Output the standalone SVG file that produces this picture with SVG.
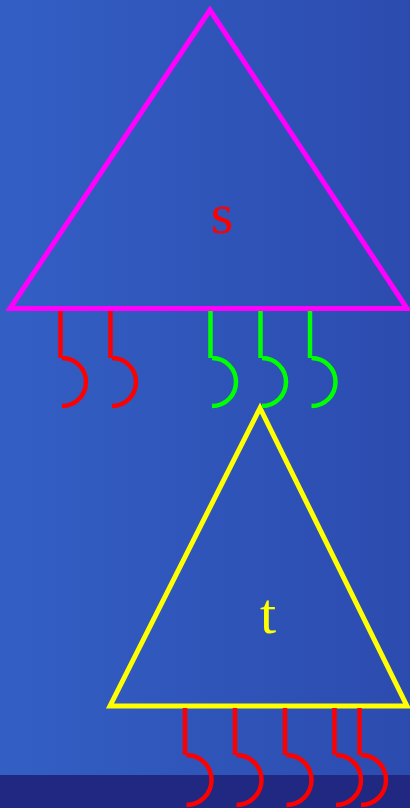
<svg xmlns="http://www.w3.org/2000/svg" width="410" height="808" viewBox="0 0 410 808">
<defs>
<linearGradient id="bg" x1="0" y1="0" x2="1" y2="0">
<stop offset="0" stop-color="#335FC4"/>
<stop offset="1" stop-color="#2C4BAF"/>
</linearGradient>
</defs>
<style>
.tri{fill:none;stroke-width:5;stroke-linejoin:miter}
.hook{fill:none;stroke-width:4.5}
.lbl{font-family:"Liberation Serif",serif;font-size:58px;text-anchor:middle}
</style>
<rect x="0" y="0" width="410" height="808" fill="url(#bg)"/>
<rect x="0" y="775" width="410" height="33" fill="#202882"/>
<g id="node-s">
<polygon class="tri" stroke="#FF00FF" points="210,10 10,308.5 407,308.5"/>
<text class="lbl" x="222" y="233" fill="#FF0000">s</text>
</g>
<g id="node-t">
<polygon class="tri" stroke="#FFFF00" points="260,408 110,706 407,706"/>
<text class="lbl" x="268" y="633" fill="#FFFF00">t</text>
</g>
<g id="connectors">
<g stroke="#FF0000" class="hook">
<path class="hook" d="M60.5,311 V358 M62,358 A24,24 0 0 1 62,406"/>
<path class="hook" d="M110.5,311 V358 M112,358 A24,24 0 0 1 112,406"/>
</g>
<g stroke="#00FF00">
<path class="hook" d="M210.5,311 V358 M212,358 A24,24 0 0 1 212,406"/>
<path class="hook" d="M260.5,311 V358 M262,358 A24,24 0 0 1 262,406"/>
<path class="hook" d="M310,311 V358 M311.5,358 A24,24 0 0 1 311.5,406"/>
</g>
<g stroke="#FF0000">
<path class="hook" d="M185,708 V755 M186.5,755 A25,25 0 0 1 186.5,805"/>
<path class="hook" d="M235,708 V755 M236.5,755 A25,25 0 0 1 236.5,805"/>
<path class="hook" d="M285,708 V755 M286.5,755 A25,25 0 0 1 286.5,805"/>
<path class="hook" d="M334.5,708 V755 M336,755 A25,25 0 0 1 336,805"/>
<path class="hook" d="M359.5,708 V755 M361,755 A25,25 0 0 1 361,805"/>
</g>
</g>
</svg>
